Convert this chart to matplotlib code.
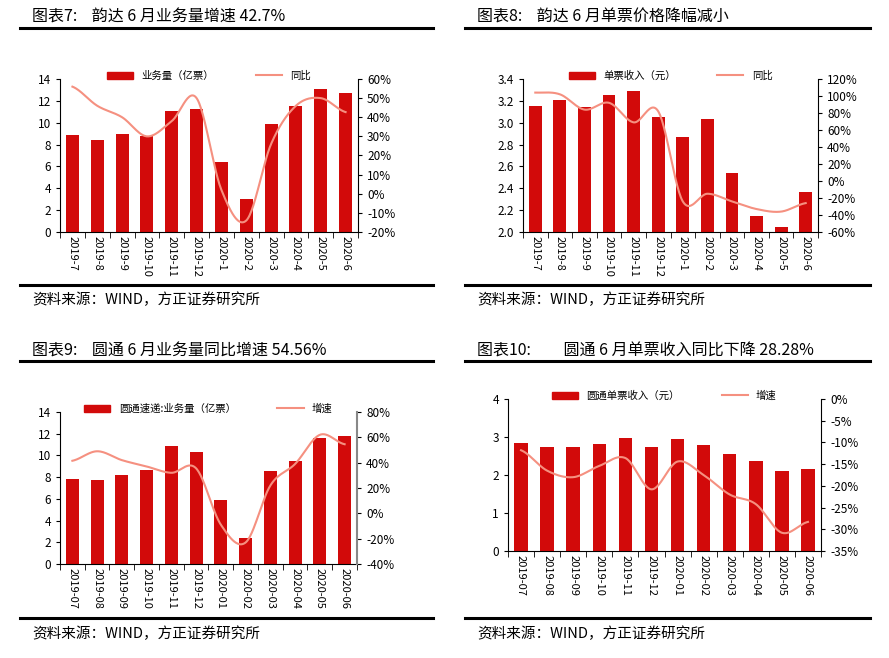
import matplotlib
matplotlib.use("Agg")
import matplotlib.pyplot as plt
import numpy as np
from matplotlib.lines import Line2D
from matplotlib.ticker import FuncFormatter, MultipleLocator

plt.rcParams['font.family'] = ['Noto Sans CJK SC', 'DejaVu Sans']

months_a = ["2019-7","2019-8","2019-9","2019-10","2019-11","2019-12","2020-1","2020-2","2020-3","2020-4","2020-5","2020-6"]
months_b = ["2019-07","2019-08","2019-09","2019-10","2019-11","2019-12","2020-01","2020-02","2020-03","2020-04","2020-05","2020-06"]

yd_volume = [8.9, 8.4, 9.0, 8.8, 11.1, 11.3, 6.4, 3.0, 9.9, 11.5, 13.1, 12.7]
yd_volume_yoy = [56, 46, 40, 30, 38, 50, 2, -14, 26, 46, 50, 42.7]
yd_price = [3.15, 3.21, 3.14, 3.25, 3.29, 3.05, 2.87, 3.03, 2.54, 2.15, 2.05, 2.37]
yd_price_yoy = [104, 102, 84, 92, 69, 82, -24, -15, -24, -33, -36, -26]
yt_volume = [7.8, 7.75, 8.2, 8.7, 10.9, 10.3, 5.9, 2.4, 8.55, 9.5, 11.6, 11.8]
yt_volume_yoy = [41.5, 49, 42, 37, 32, 35.5, -9, -23, 22, 39, 62, 54.56]
yt_price = [2.84, 2.75, 2.75, 2.81, 2.97, 2.75, 2.95, 2.80, 2.56, 2.36, 2.10, 2.17]
yt_price_yoy = [-11.8, -16.5, -18, -15.4, -13.6, -20.8, -14.4, -17.5, -22, -24.2, -30.8, -28.3]

titles = ["图表7:    韵达 6 月业务量增速 42.7%", "图表8:    韵达 6 月单票价格降幅减小",
          "图表9:    圆通 6 月业务量同比增速 54.56%", "图表10:         圆通 6 月单票收入同比下降 28.28%"]
source = "资料来源：WIND，方正证券研究所"

BAR = '#D20A0A'
LINE = '#F59080'
W, H = 889, 658
fig = plt.figure(figsize=(W/100, H/100), dpi=100)

def rect(x0, x1, y0, y1):
    return [x0/W, 1-y1/H, (x1-x0)/W, (y1-y0)/H]

def panel(r, labels, bars, line, ylim, ystep, y2lim, y2step, barlab, linelab, ydec=0, graysp=False):
    ax = fig.add_axes(r)
    x = np.arange(len(labels))
    ax.bar(x, bars, width=0.52, color=BAR)
    ax.set_ylim(*ylim)
    ax.yaxis.set_major_locator(MultipleLocator(ystep))
    ax.yaxis.set_major_formatter(FuncFormatter(lambda v, p: f"{v:.{ydec}f}"))
    ax.set_xlim(-0.5, len(labels)-0.5)
    ax.set_xticks(x)
    ax.set_xticklabels(labels, rotation=-90, fontsize=8)
    ax.set_xticks(np.arange(-0.5, len(labels)), minor=True)
    ax.tick_params(axis='x', which='major', length=0, pad=3)
    ax.tick_params(axis='x', which='minor', length=4, direction='out')
    ax.tick_params(axis='y', labelsize=8.5, length=3)
    for s in ['top', 'right']:
        ax.spines[s].set_visible(False)
    ax2 = ax.twinx()
    xs = np.linspace(0, len(labels)-1, 300)
    pts = np.array(line, dtype=float)
    def cr(t):
        i = min(int(t), len(pts)-2); u = t - i
        p0 = pts[max(i-1, 0)]; p1 = pts[i]; p2 = pts[i+1]; p3 = pts[min(i+2, len(pts)-1)]
        return 0.5*((2*p1) + (-p0+p2)*u + (2*p0-5*p1+4*p2-p3)*u**2 + (-p0+3*p1-3*p2+p3)*u**3)
    ax2.plot(xs, [cr(t) for t in xs], color=LINE, lw=1.5)
    ax2.set_ylim(*y2lim)
    ax2.yaxis.set_major_locator(MultipleLocator(y2step))
    ax2.yaxis.set_major_formatter(FuncFormatter(lambda v, p: f"{v:.0f}%"))
    ax2.tick_params(axis='y', labelsize=8.5, length=3)
    for s in ['top', 'left', 'bottom']:
        ax2.spines[s].set_visible(False)
    if graysp:
        ax2.spines['right'].set_color('#888888'); ax2.spines['right'].set_linewidth(1.5)
    handles = [plt.Rectangle((0, 0), 1, 1, color=BAR), Line2D([], [], color=LINE, lw=1.5)]
    ax.legend(handles, [barlab, linelab], loc='lower center', bbox_to_anchor=(0.5, 0.96),
              ncol=2, frameon=False, fontsize=7.5, handlelength=2.5, columnspacing=4, borderaxespad=0)
    return ax

panel(rect(60, 358, 79, 232), months_a, yd_volume, yd_volume_yoy, (0, 14), 2, (-20, 60), 10, "业务量（亿票）", "同比")
panel(rect(523, 818, 79, 232), months_a, yd_price, yd_price_yoy, (2.0, 3.4), 0.2, (-60, 120), 20, "单票收入（元）", "同比", ydec=1)
panel(rect(60, 357, 412, 564), months_b, yt_volume, yt_volume_yoy, (0, 14), 2, (-40, 80), 20, "圆通速递:业务量（亿票）", "增速", graysp=True)
panel(rect(508, 821, 399, 551), months_b, yt_price, yt_price_yoy, (0, 4), 1, (-35, 0), 5, "圆通单票收入（元）", "增速")

specs = [(20, 433, 17, 28, 300, 285, titles[0]), (465, 870, 17, 28, 300, 285, titles[1]),
         (20, 433, 351, 361, 634, 618, titles[2]), (465, 870, 351, 361, 634, 618, titles[3])]
for x0, x1, ty, ry, sy, ry2, t in specs:
    fig.text((x0+12)/W, 1-ty/H, t, fontsize=11.5, fontweight='medium', va='center', ha='left')
    fig.add_artist(Line2D([x0/W, x1/W], [1-ry/H]*2, color='black', lw=2.2))
    fig.add_artist(Line2D([x0/W, x1/W], [1-ry2/H]*2, color='black', lw=2.2))
    fig.text((x0+12)/W, 1-sy/H, source, fontsize=10.5, fontstyle='italic', fontweight='medium', va='center', ha='left')

fig.savefig("out.png", dpi=100, facecolor='white')
